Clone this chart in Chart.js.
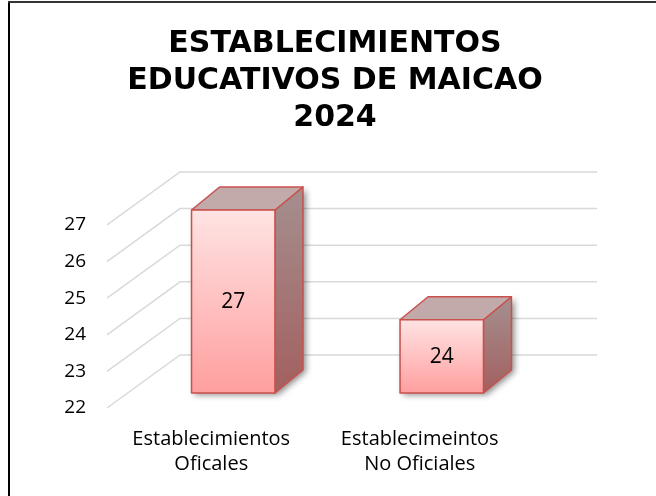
<!DOCTYPE html>
<html>
<head>
<meta charset="utf-8">
<script src="https://cdn.jsdelivr.net/npm/chart.js@4.4.1/dist/chart.umd.min.js"></script>
<style>
  html, body { margin: 0; padding: 0; background: #fff; }
  #wrap { width: 656px; height: 496px; position: relative; }
</style>
</head>
<body>
<div id="wrap"><canvas id="myChart" width="656" height="496"></canvas></div>
<script>
    'use strict';
    // data
    var categories = [['Establecimientos', 'Oficales'], ['Establecimeintos', 'No Oficiales']];
    var values = [27, 24];
    var yTicks = [22, 23, 24, 25, 26, 27];
    var titleLines = ['ESTABLECIMIENTOS', 'EDUCATIVOS DE MAICAO', '2024'];

    // 3d look (excel style)
    var WALL_DX = 73, WALL_DY = -53;
    var FACE_DX = 22, FACE_DY = -15;
    var BAR_DX = 28, BAR_DY = -23;

    var frame = {
        id: 'frame',
        afterDraw: function(chart){
            var ctx = chart.ctx;
            ctx.save();
            ctx.fillStyle = '#000';
            ctx.fillRect(8, 1, 2, 495);
            ctx.fillStyle = '#333';
            ctx.fillRect(8, 1, 648, 2);
            ctx.restore();
        }
    };

    var walls = {
        id: 'walls',
        beforeDatasetsDraw: function(chart){
            var ctx = chart.ctx;
            var a = chart.chartArea;
            var y = chart.scales.y;
            ctx.save();
            ctx.strokeStyle = '#d9d9d9';
            ctx.lineWidth = 1.5;
            yTicks.forEach(function(v){
                var py = y.getPixelForValue(v);
                ctx.beginPath();
                ctx.moveTo(a.left, py);
                ctx.lineTo(a.left + WALL_DX, py + WALL_DY);
                ctx.lineTo(a.right + WALL_DX, py + WALL_DY);
                ctx.stroke();
            });
            ctx.restore();
        }
    };

    var bars3d = {
        id: 'bars3d',
        afterDatasetsDraw: function(chart){
            var ctx = chart.ctx;
            var a = chart.chartArea;
            var meta = chart.getDatasetMeta(0);
            meta.data.forEach(function(bar, i){
                var p = bar.getProps(['x', 'y', 'base', 'width'], true);
                var xl = p.x - p.width / 2 + FACE_DX;
                var xr = p.x + p.width / 2 + FACE_DX;
                var yt = p.y + FACE_DY;
                var yb = Math.min(p.base, a.bottom) + FACE_DY;

                ctx.save();
                // shadow
                ctx.shadowColor = 'rgba(0,0,0,0.45)';
                ctx.shadowBlur = 6;
                ctx.shadowOffsetX = 3;
                ctx.shadowOffsetY = 2;
                ctx.fillStyle = '#fff';
                ctx.beginPath();
                ctx.moveTo(xl, yb);
                ctx.lineTo(xr, yb);
                ctx.lineTo(xr + BAR_DX, yb + BAR_DY);
                ctx.lineTo(xr + BAR_DX, yt + BAR_DY);
                ctx.lineTo(xr, yt);
                ctx.lineTo(xl, yt);
                ctx.closePath();
                ctx.fill();
                ctx.restore();

                ctx.save();
                ctx.lineWidth = 1.5;
                ctx.lineJoin = 'round';
                ctx.strokeStyle = '#c9504d';

                // side
                var gs = ctx.createLinearGradient(0, yt + BAR_DY, 0, yb);
                gs.addColorStop(0, '#a58f8f');
                gs.addColorStop(1, '#a35f5f');
                ctx.fillStyle = gs;
                ctx.beginPath();
                ctx.moveTo(xr, yt);
                ctx.lineTo(xr + BAR_DX, yt + BAR_DY);
                ctx.lineTo(xr + BAR_DX, yb + BAR_DY);
                ctx.lineTo(xr, yb);
                ctx.closePath();
                ctx.fill();
                ctx.stroke();

                // top
                ctx.fillStyle = '#c2aaaa';
                ctx.beginPath();
                ctx.moveTo(xl, yt);
                ctx.lineTo(xl + BAR_DX, yt + BAR_DY);
                ctx.lineTo(xr + BAR_DX, yt + BAR_DY);
                ctx.lineTo(xr, yt);
                ctx.closePath();
                ctx.fill();
                ctx.stroke();

                // front
                var gf = ctx.createLinearGradient(0, yt, 0, yb);
                gf.addColorStop(0, '#ffe3e3');
                gf.addColorStop(1, '#ff9f9f');
                ctx.fillStyle = gf;
                ctx.fillRect(xl, yt, xr - xl, yb - yt);
                ctx.strokeRect(xl, yt, xr - xl, yb - yt);

                // value label
                ctx.fillStyle = '#000';
                ctx.font = '21px "Open Sans"';
                ctx.textAlign = 'center';
                ctx.textBaseline = 'middle';
                ctx.fillText(String(values[i]), (xl + xr) / 2, (yt + yb) / 2 + 1);
                ctx.restore();
            });
        }
    };

    var config = {
        type: 'bar',
        data: {
            labels: categories,
            datasets: [{
                data: values,
                base: yTicks[0],
                backgroundColor: 'rgba(0,0,0,0)',
                borderWidth: 0,
                barPercentage: 0.4,
                categoryPercentage: 1.0
            }]
        },
        options: {
            responsive: false,
            animation: false,
            layout: { padding: { left: 14, right: 0, top: 0, bottom: 0 } },
            plugins: {
                legend: { display: false },
                tooltip: { enabled: false },
                title: {
                    display: true,
                    text: titleLines,
                    color: '#000',
                    font: { family: '"DejaVu Sans"', size: 30, weight: 'bold', lineHeight: 1.233 },
                    padding: { top: 26, bottom: 88 }
                }
            },
            scales: {
                x: {
                    grid: { display: false, drawTicks: false },
                    border: { display: false },
                    ticks: {
                        color: '#000',
                        font: { family: '"Open Sans"', size: 20, lineHeight: 1.25 },
                        padding: 19,
                        maxRotation: 0
                    },
                    afterFit: function(scale){ scale.height = 88; }
                },
                y: {
                    min: 22,
                    max: 27,
                    grid: { display: false, drawTicks: false },
                    border: { display: false },
                    afterBuildTicks: function(scale){
                        scale.ticks = yTicks.map(function(v){ return { value: v }; });
                    },
                    ticks: {
                        color: '#000',
                        font: { family: '"Open Sans"', size: 19 },
                        padding: 21
                    },
                    afterFit: function(scale){ scale.width = 93; }
                },
                // empty room on the right for the depth of the back wall
                yRight: {
                    position: 'right',
                    display: true,
                    grid: { display: false, drawTicks: false },
                    border: { display: false },
                    ticks: { display: false },
                    afterFit: function(scale){ scale.width = 132; }
                }
            }
        },
        plugins: [walls, bars3d, frame]
    };

    var myChart = new Chart(document.getElementById('myChart'), config);
</script>
</body>
</html>
